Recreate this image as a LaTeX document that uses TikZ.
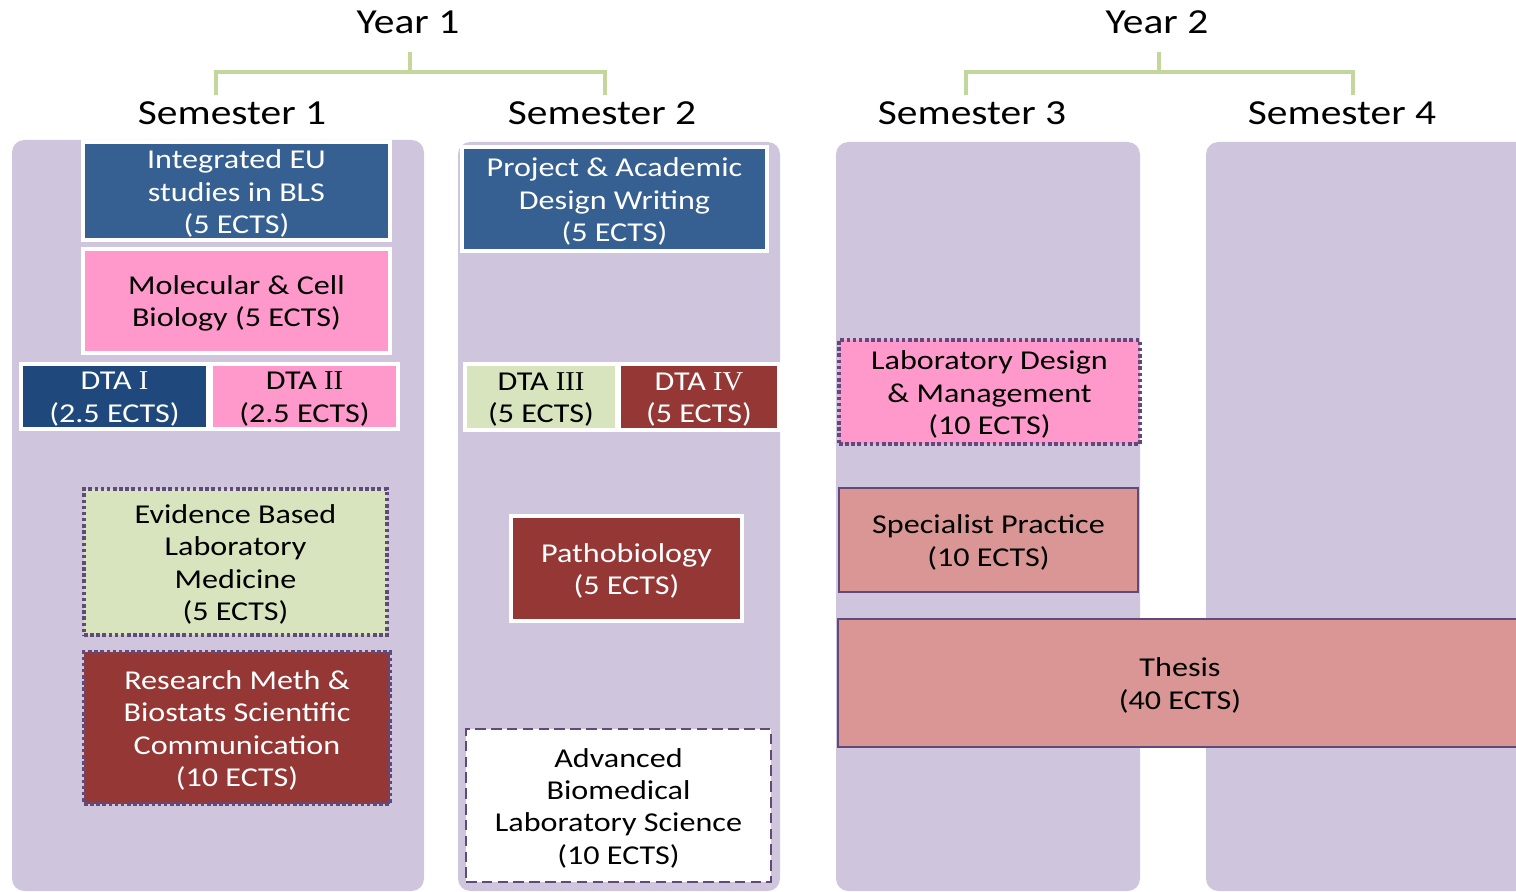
\documentclass[tikz,border=0pt]{standalone}
\usepackage{fontspec}
\setmainfont{Carlito}[FakeStretch=1.18]
\newfontfamily\romnum{Liberation Serif}[FakeStretch=1.05]
\usetikzlibrary{fit}
\definecolor{lav}{RGB}{207,198,222}
\definecolor{cblue}{RGB}{54,96,146}
\definecolor{dblue}{RGB}{31,73,125}
\definecolor{cpink}{RGB}{255,153,204}
\definecolor{cgreen}{RGB}{215,228,189}
\definecolor{cred}{RGB}{149,55,53}
\definecolor{csalmon}{RGB}{217,150,148}
\definecolor{cpurple}{RGB}{96,74,123}
\definecolor{brgreen}{RGB}{195,214,155}
\newcommand\bxfont{\fontsize{15.5pt}{18.4pt}\selectfont}
\newcommand\hdfont{\fontsize{20pt}{24pt}\selectfont}
\tikzset{
  col/.style={fill=lav, draw=none, rounded corners=7pt},
  cbox/.style={inner sep=0pt},
  wbox/.style={cbox, draw=white, line width=2pt},
  dotbox/.style={cbox, draw=cpurple, line width=2.1pt, dash pattern=on 2pt off 1.5pt},
  dashbox/.style={cbox, draw=cpurple, line width=1.4pt, dash pattern=on 6pt off 3pt},
  solbox/.style={cbox, draw=cpurple, line width=1.4pt},
  lbl/.style={inner sep=0pt, align=center, font=\bxfont, text=black, yshift=-1.4pt},
  wlbl/.style={lbl, text=white},
  hd/.style={font=\hdfont, inner sep=0pt},
  br/.style={draw=brgreen, line width=2.3pt},
}
\begin{document}
\begin{tikzpicture}[x=0.02cm, y=-0.02cm]
\useasboundingbox (0,0) rectangle (1516,892);
\clip (0,0) rectangle (1516,892);
% headings
\node[hd] (y1) at (408,22) {Year 1};
\node[hd] (y2) at (1157,22) {Year 2};
\node[hd] (s1) at (232,113) {Semester 1};
\node[hd] (s2) at (602,113) {Semester 2};
\node[hd] (s3) at (972,113) {Semester 3};
\node[hd] (s4) at (1342,113) {Semester 4};
\coordinate (y1a) at (410,52); \coordinate (y1m) at (410,72);
\coordinate (s1t) at (216,95); \coordinate (s2t) at (605,95);
\coordinate (y2a) at (1159,52); \coordinate (y2m) at (1159,72);
\coordinate (s3t) at (966,95); \coordinate (s4t) at (1353,95);
\draw[br] (y1a) -- (y1m);
\draw[br] (s1t) |- (y1m) -| (s2t);
\draw[br] (y2a) -- (y2m);
\draw[br] (s3t) |- (y2m) -| (s4t);
% columns
\path[col] (12,140) rectangle (424,891);
\path[col] (458,142) rectangle (780,891);
\path[col] (836,142) rectangle (1140,891);
\path[col] (1206,142) rectangle (1560,891);
% semester 1
\node[wbox, fill=cblue, fit={(83,142)(390,240)}] (ieu) {};
\node[wlbl] (ieu-t) at (ieu.center) {Integrated EU\\studies in BLS\\(5 ECTS)};
\node[wbox, fill=cpink, fit={(83,249)(390,353)}] (mcb) {};
\node[lbl] (mcb-t) at (mcb.center) {Molecular \& Cell\\Biology (5 ECTS)};
\node[wbox, fill=dblue, fit={(21,364)(208,429)}] (dta1) {};
\node[wlbl] (dta1-t) at (dta1.center) {DTA {\romnum I}\\(2.5 ECTS)};
\node[wbox, fill=cpink, fit={(211,364)(398,429)}] (dta2) {};
\node[lbl] (dta2-t) at (dta2.center) {DTA {\romnum II}\\(2.5 ECTS)};
\node[dotbox, fill=cgreen, fit={(84,489)(387,635)}] (ebl) {};
\node[lbl] (ebl-t) at (ebl.center) {Evidence Based\\Laboratory\\Medicine\\(5 ECTS)};
\node[dotbox, fill=cred, fit={(84,652)(390,804)}] (rm) {};
\node[wlbl] (rm-t) at (rm.center) {Research Meth \&\\Biostats Scientific\\Communication\\(10 ECTS)};
% semester 2
\node[wbox, fill=cblue, fit={(462,147)(767,251)}] (pad) {};
\node[wlbl] (pad-t) at (pad.center) {Project \& Academic\\Design Writing\\(5 ECTS)};
\node[wbox, fill=cgreen, fit={(465,364)(617,430)}] (dta3) {};
\node[lbl] (dta3-t) at (dta3.center) {DTA {\romnum III}\\(5 ECTS)};
\node[wbox, fill=cred, fit={(619,364)(779,430)}] (dta4) {};
\node[wlbl] (dta4-t) at (dta4.center) {DTA {\romnum IV}\\(5 ECTS)};
\node[wbox, fill=cred, fit={(511,516)(742,621)}] (path) {};
\node[wlbl] (path-t) at (path.center) {Pathobiology\\(5 ECTS)};
\node[dashbox, fill=white, fit={(466,729)(771,882)}] (abl) {};
\node[lbl] (abl-t) at (abl.center) {Advanced\\Biomedical\\Laboratory Science\\(10 ECTS)};
% semester 3 / 4
\node[dotbox, fill=cpink, fit={(839,340)(1140,444)}] (ldm) {};
\node[lbl] (ldm-t) at (ldm.center) {Laboratory Design\\\& Management\\(10 ECTS)};
\node[solbox, fill=csalmon, fit={(839,488)(1138,592)}] (sp) {};
\node[lbl] (sp-t) at (sp.center) {Specialist Practice\\(10 ECTS)};
\node[solbox, fill=csalmon, fit={(838,619)(1522,747)}] (th) {};
\node[lbl] (th-t) at (1180,683) {Thesis\\(40 ECTS)};
\end{tikzpicture}
\end{document}
